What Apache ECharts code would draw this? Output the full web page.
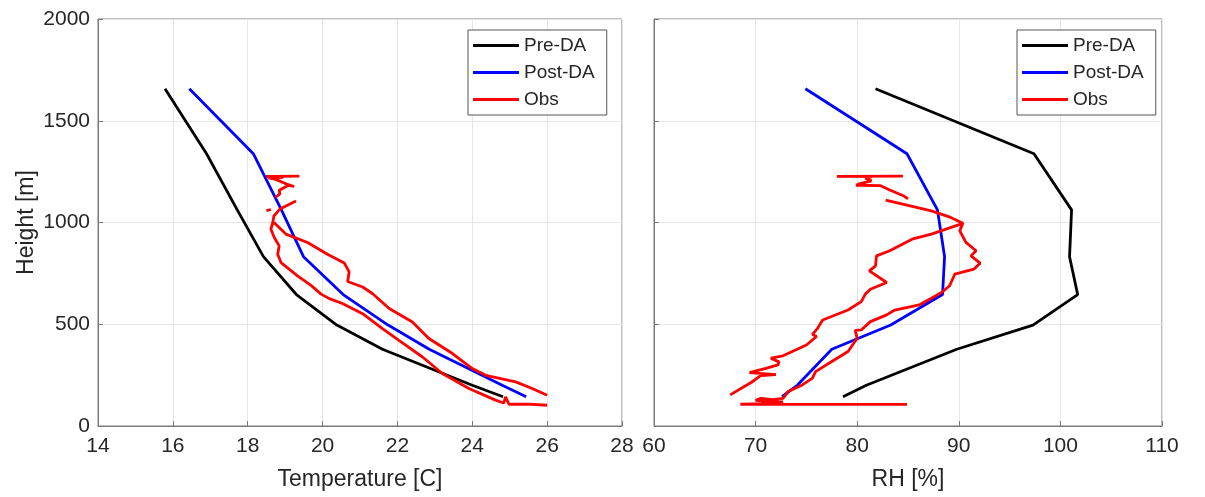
<!DOCTYPE html>
<html>
<head>
<meta charset="utf-8">
<script src="https://cdn.jsdelivr.net/npm/echarts@6/dist/echarts.min.js"></script>
<style>
  html, body { margin: 0; padding: 0; background: #fff; }
  #chart { width: 1205px; height: 497px; }
</style>
</head>
<body>
<div id="chart"></div>
<script>
// model levels (m)
var levels = [144, 200, 377, 496, 646, 832, 1062, 1338, 1657];
var preTemp = [24.82, 24.0, 21.6, 20.38, 19.3, 18.42, 17.72, 16.9, 15.79];
var postTemp = [25.44, 24.8, 22.85, 21.75, 20.55, 19.49, 18.9, 18.15, 16.44];
var preRh = [78.6, 80.9, 89.8, 97.3, 101.7, 100.9, 101.1, 97.4, 81.8];
var postRh = [72.6, 74.1, 77.5, 83.3, 88.4, 88.6, 87.9, 84.9, 74.9];

// observed profile, null = gap in the trace
var obsTemp = [
  19.38, 18.49, 18.95, 18.55, 18.75, 19.02, 19.24, 19.08, 18.84, 18.86, 18.74, null,
  18.5, 18.62, null,
  19.29, 18.86, 18.7, 18.67, 18.62, 18.71, 18.84, 18.8, 18.89, 19.33, 19.7, 19.96, 20.18, 20.53,
  21.07, 21.6, 22.04, 22.67, 23.2, 23.91, 24.62, 24.84, 24.89, 24.98, 25.51, 26.0, null,
  18.7, 19.02, 19.6, 20.13, 20.58, 20.71, 20.67, 21.07, 21.33, 21.78, 22.4, 22.84, 23.47,
  24.0, 24.36, 25.16, 25.6, 26.0
];
var obsTempH = [
  1228, 1226, 1222, 1219, 1212, 1190, 1177, 1182, 1158, 1140, 1123, null,
  1058, 1064, null,
  1106, 1066, 1032, 1000, 967, 926, 885, 844, 803, 738, 690, 648, 626, 602,
  552, 479, 421, 339, 258, 184, 127, 113, 143, 107, 107, 102, null,
  1000, 943, 902, 844, 801, 757, 710, 683, 651, 577, 511, 430, 356,
  282, 249, 217, 184, 151
];
var obsRh = [
  84.5, 78.0, 81.5, 80.8, 81.4, 80.2, 79.9, 82.3, 83.2, 84.6, 85.0, null,
  82.8, 87.3, 89.2, 90.4, 90.1, 90.7, 91.7, 91.2, 92.1, 91.5, 89.6, 89.1, 88.3, 87.3, 86.1,
  83.7, 82.9, 81.3, 80.4, 79.8, 80.0, 79.1, 77.5, 75.9, 75.6, 74.6, 73.2, 72.7, 71.7, 70.5,
  70.0, 71.2, 72.7, 71.2, 68.5, 84.9, null,
  90.4, 87.3, 85.4, 83.2, 81.9, 81.8, 81.2, 82.9, 81.3, 80.8, 80.4, 79.1, 76.6, 76.1, 75.6,
  76.0, 75.0, 72.7, 71.5, 72.3, 72.2, 71.0, 69.4, 72.0, 70.5, 69.6, 67.5
];
var obsRhH = [
  1228, 1227, 1225, 1218, 1205, 1190, 1183, 1181, 1160, 1130, 1116, null,
  1110, 1057, 1025, 996, 959, 902, 861, 836, 800, 771, 746, 689, 656, 628, 595,
  570, 546, 513, 472, 470, 431, 366, 317, 267, 235, 202, 169, 136, 130, 136,
  126, 120, 118, 110, 107, 106, null,
  996, 943, 918, 861, 836, 787, 762, 705, 672, 648, 611, 570, 521, 480, 450,
  440, 398, 345, 333, 315, 300, 283, 262, 252, 248, 215, 153
];

var xTempTicks = [14, 28, 2];
var xRhTicks = [60, 110, 10];
var yTicks = [0, 2000, 500];

function pairs(xs, hs) {
  return xs.map(function (x, i) {
    return x === null ? ['-', '-'] : [x, hs[i]];
  });
}

var font = 'Liberation Sans, Arial, Helvetica, sans-serif';
var axisGray = '#7a7a7a';
var textCol = '#262626';

function xAxisOf(idx, ticks, name) {
  return {
    type: 'value', gridIndex: idx,
    min: ticks[0], max: ticks[1], interval: ticks[2],
    name: name, nameLocation: 'middle', nameGap: 42,
    nameTextStyle: { fontFamily: font, fontSize: 23, color: textCol },
    axisLine: { show: true, onZero: false, lineStyle: { color: axisGray, width: 1 } },
    axisTick: { show: true, inside: true, length: 5, lineStyle: { color: axisGray } },
    axisLabel: { fontFamily: font, fontSize: 21, color: textCol, margin: 10 },
    splitLine: { show: true, lineStyle: { color: '#e6e6e6', width: 1 } }
  };
}

function yAxisOf(idx, showLabel) {
  return {
    type: 'value', gridIndex: idx,
    min: yTicks[0], max: yTicks[1], interval: yTicks[2],
    name: showLabel ? 'Height [m]' : '', nameLocation: 'middle', nameGap: 60,
    nameTextStyle: { fontFamily: font, fontSize: 23, color: textCol },
    axisLine: { show: true, onZero: false, lineStyle: { color: axisGray, width: 1 } },
    axisTick: { show: true, inside: true, length: 5, lineStyle: { color: axisGray } },
    axisLabel: {
      show: showLabel, fontFamily: font, fontSize: 21, color: textCol, margin: 8,
      formatter: function (v) { return String(v); }
    },
    splitLine: { show: true, lineStyle: { color: '#e6e6e6', width: 1 } }
  };
}

function lineSeries(name, color, data, idx) {
  return {
    name: name, type: 'line', data: data,
    xAxisIndex: idx, yAxisIndex: idx,
    symbol: 'none', showSymbol: false, connectNulls: false,
    lineStyle: { color: color, width: 2.8 },
    itemStyle: { color: color },
    animation: false
  };
}

function legendAt(left) {
  return {
    left: left, top: 30, orient: 'vertical',
    data: ['Pre-DA', 'Post-DA', 'Obs'],
    icon: 'rect', itemWidth: 46, itemHeight: 3, itemGap: 8,
    padding: [6, 12, 6, 5],
    backgroundColor: '#fff', borderColor: '#555', borderWidth: 1, borderRadius: 0,
    textStyle: { fontFamily: font, fontSize: 19, color: textCol, lineHeight: 19 }
  };
}

var chart = echarts.init(document.getElementById('chart'));
chart.setOption({
  backgroundColor: '#fff',
  animation: false,
  grid: [
    { left: 98, top: 19, width: 524, height: 407, show: true, borderColor: axisGray, borderWidth: 1 },
    { left: 654, top: 19, width: 508, height: 407, show: true, borderColor: axisGray, borderWidth: 1 }
  ],
  legend: [legendAt(468), legendAt(1017)],
  xAxis: [xAxisOf(0, xTempTicks, 'Temperature [C]'), xAxisOf(1, xRhTicks, 'RH [%]')],
  yAxis: [yAxisOf(0, true), yAxisOf(1, false)],
  series: [
    lineSeries('Pre-DA', '#000000', pairs(preTemp, levels), 0),
    lineSeries('Post-DA', '#0000ff', pairs(postTemp, levels), 0),
    lineSeries('Obs', '#ff0000', pairs(obsTemp, obsTempH), 0),
    lineSeries('Pre-DA', '#000000', pairs(preRh, levels), 1),
    lineSeries('Post-DA', '#0000ff', pairs(postRh, levels), 1),
    lineSeries('Obs', '#ff0000', pairs(obsRh, obsRhH), 1)
  ]
});
</script>
</body>
</html>
